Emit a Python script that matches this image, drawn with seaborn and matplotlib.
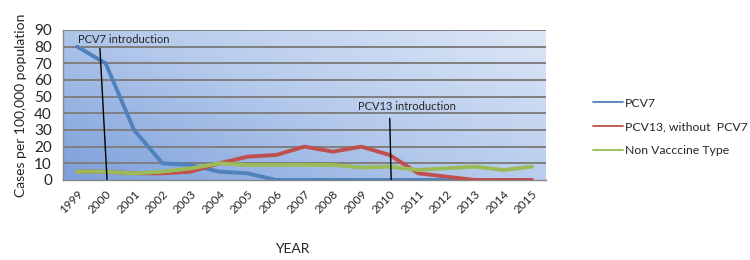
import numpy as np
import pandas as pd
import seaborn as sns
import matplotlib.pyplot as plt
from matplotlib.colors import LinearSegmentedColormap

years = [str(y) for y in range(1999, 2016)]
pcv7 = [80, 70, 30, 10, 9, 5, 4, 0, 0, 0, 0, 0, 0, 0, 0, 0, 0]
pcv13 = [5, 5, 4, 4, 5, 10, 14, 15, 20, 17, 20, 15, 4, 2, 0, 0, 0]
nvt = [5, 5, 4, 5, 7, 10, 9, 9, 9, 9, 7.5, 8, 6, 7, 8, 6, 8]
series_names = ["PCV7", "PCV13, without  PCV7", "Non Vacccine Type"]
colors = ["#4F81BD", "#C0504D", "#9BBB59"]

df = pd.DataFrame({"year": years * 3,
                   "cases": pcv7 + pcv13 + nvt,
                   "series": np.repeat(series_names, len(years))})
df["pos"] = list(range(len(years))) * 3

sns.set_style("white")
plt.rcParams["font.family"] = ["Lato", "DejaVu Sans"]

fig = plt.figure(figsize=(7.5, 2.6), dpi=100)
ax = fig.add_axes([0.084, 0.3077, 0.644, 0.577])

# gradient background of the plot area
gx, gy = np.meshgrid(np.linspace(0, 1, 200), np.linspace(0, 1, 100))
grad = (gx * 0.55 + gy * 0.45)
cmap = LinearSegmentedColormap.from_list("bg", ["#7C9FDA", "#B5CAEC", "#DDE7F6"])
ax.imshow(grad, extent=[0, 1, 0, 1], transform=ax.transAxes, origin="lower",
          cmap=cmap, aspect="auto", zorder=0)

for v in range(10, 91, 10):
    ax.axhline(v, color="#7F7F7F", lw=1.4, zorder=1)

sns.lineplot(data=df, x="pos", y="cases", hue="series", palette=colors,
             hue_order=series_names, lw=2.8, ax=ax, legend=False, zorder=3)

# introduction markers
ax.plot([0.8, 1.05], [79, 0], color="black", lw=1, zorder=4)
ax.plot([11.0, 11.05], [37, 0], color="black", lw=1, zorder=4)
ax.text(0.03, 84, "PCV7 introduction", fontsize=8, va="center", ha="left")
ax.text(9.89, 43.8, "PCV13 introduction", fontsize=8, va="center", ha="left")

ax.set_xlim(-0.5, len(years) - 0.5)
ax.set_ylim(0, 90)
ax.set_yticks(range(0, 91, 10))
ax.set_xticks(range(len(years)))
ax.set_xticklabels(years, rotation=45, ha="right", rotation_mode="anchor", fontsize=8.5)
ax.set_xticks(np.arange(-0.5, len(years), 1), minor=True)
ax.tick_params(axis="x", which="major", length=0, pad=6)
ax.tick_params(axis="x", which="minor", length=5, color="#868686", width=1)
ax.tick_params(axis="y", length=5, color="#868686", width=1, labelsize=11, pad=3)
for s in ["top", "right"]:
    ax.spines[s].set_visible(False)
for s in ["left", "bottom"]:
    ax.spines[s].set_color("#868686")
    ax.spines[s].set_linewidth(1)
ax.set_xlabel("")
ax.set_ylabel("Cases per 100,000 population", fontsize=10, labelpad=5)
fig.text(0.389, 0.042, "YEAR", fontsize=10, ha="center", va="center")

handles = [plt.Line2D([], [], color=c, lw=1.3) for c in colors]
fig.legend(handles, series_names, loc="center left", bbox_to_anchor=(0.776, 0.512),
           frameon=False, fontsize=8.8, handlelength=2.45, handletextpad=0.15,
           labelspacing=1.05)

fig.savefig("out.png", dpi=100)
